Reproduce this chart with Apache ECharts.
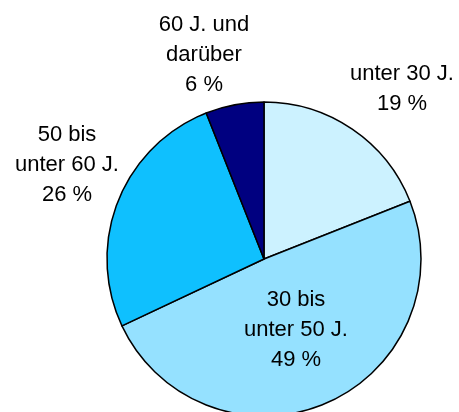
<!DOCTYPE html>
<html>
<head>
<meta charset="utf-8">
<script src="https://cdn.jsdelivr.net/npm/echarts@6/dist/echarts.min.js"></script>
<style>
html,body{margin:0;padding:0;background:#fff;}
#main{width:459px;height:412px;}
</style>
</head>
<body>
<div id="main"></div>
<script>
// Altersgruppen und Anteile (%)
var names = ['unter 30 J.', '30 bis\nunter 50 J.', '50 bis\nunter 60 J.', '60 J. und\ndarüber'];
var values = [19, 49, 26, 6];
var colors = ['#ccf2ff', '#95e1ff', '#0fc0fe', '#000080'];
// Position der Beschriftungen (Mittelpunkt des Textblocks)
var labelPos = [[402, 89], [296, 330], [67, 165], [204, 55]];

var myChart = echarts.init(document.getElementById('main'));
var data = [];
for (var i = 0; i < names.length; i++) {
	data.push({name: names[i], value: values[i], itemStyle: {color: colors[i]}});
}
var option = {
	animation: false,
	series: [{
		type: 'pie',
		center: [264, 259],
		radius: 157,
		startAngle: 90,
		clockwise: true,
		data: data,
		itemStyle: {
			borderColor: '#000',
			borderWidth: 1.5
		},
		label: {
			show: true,
			formatter: '{b}\n{c} %',
			color: '#000',
			fontSize: 22,
			lineHeight: 30,
			overflow: 'none',
			width: 200,
			fontFamily: 'Liberation Sans, Arial, sans-serif'
		},
		labelLine: {show: false},
		labelLayout: function (params) {
			var p = labelPos[params.dataIndex];
			return {x: p[0], y: p[1], align: 'center', verticalAlign: 'middle'};
		},
		emphasis: {disabled: true}
	}]
};
myChart.setOption(option);
</script>
</body>
</html>
